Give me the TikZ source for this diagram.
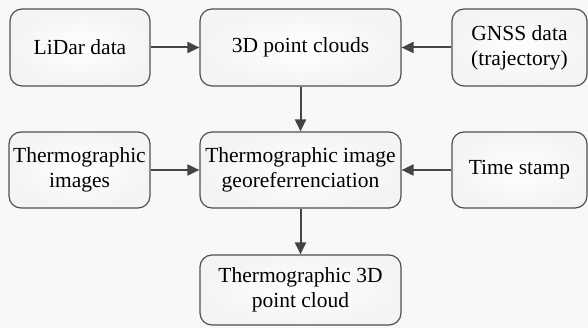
\documentclass[tikz,border=0pt]{standalone}
\usepackage{fontspec}
\setmainfont{Liberation Serif}
\newfontfamily\boxfont{Liberation Serif}
\usetikzlibrary{arrows.meta,shadings}
\definecolor{bgcol}{HTML}{F8F8F8}
\definecolor{edgecol}{HTML}{505050}
\definecolor{arrcol}{HTML}{444444}
\definecolor{boxout}{HTML}{F4F4F4}
\tikzset{
  stepbox/.style={draw=edgecol, line width=1.2pt, rounded corners=12pt,
    inner color=white, outer color=boxout, align=center,
    font=\boxfont\fontsize{21.5}{25}\selectfont, inner sep=0pt},
  flow/.style={draw=arrcol, line width=2pt,
    -{Triangle[length=12pt,width=11pt]}}
}
\begin{document}
\begin{tikzpicture}[x=1pt,y=-1pt]
  \fill[bgcol] (0,0) rectangle (588,328);
  \useasboundingbox (0,0) rectangle (588,328);
  % top row
  \node[stepbox, minimum width=140pt, minimum height=77pt] (lidar) at (80,47.5) {LiDar data};
  \node[stepbox, minimum width=201pt, minimum height=77pt] (pc) at (300.5,47.5) {3D point clouds};
  \node[stepbox, minimum width=135pt, minimum height=77pt] (gnss) at (519.5,47.5) {GNSS data\\(trajectory)};
  % middle row
  \node[stepbox, minimum width=141pt, minimum height=76pt] (timg) at (79.5,170) {Thermographic\\images};
  \node[stepbox, minimum width=201pt, minimum height=76pt] (geo) at (300.5,170) {Thermographic image\\georeferrenciation};
  \node[stepbox, minimum width=135pt, minimum height=76pt] (ts) at (519.5,170) {Time stamp};
  % result
  \node[stepbox, minimum width=201pt, minimum height=70pt] (res) at (300.5,290) {Thermographic 3D\\point cloud};
  % connectors
  \draw[flow] (lidar) -- (pc);
  \draw[flow] (gnss) -- (pc);
  \draw[flow] (pc) -- (geo);
  \draw[flow] (timg) -- (geo);
  \draw[flow] (ts) -- (geo);
  \draw[flow] (geo) -- (res);
\end{tikzpicture}
\end{document}
